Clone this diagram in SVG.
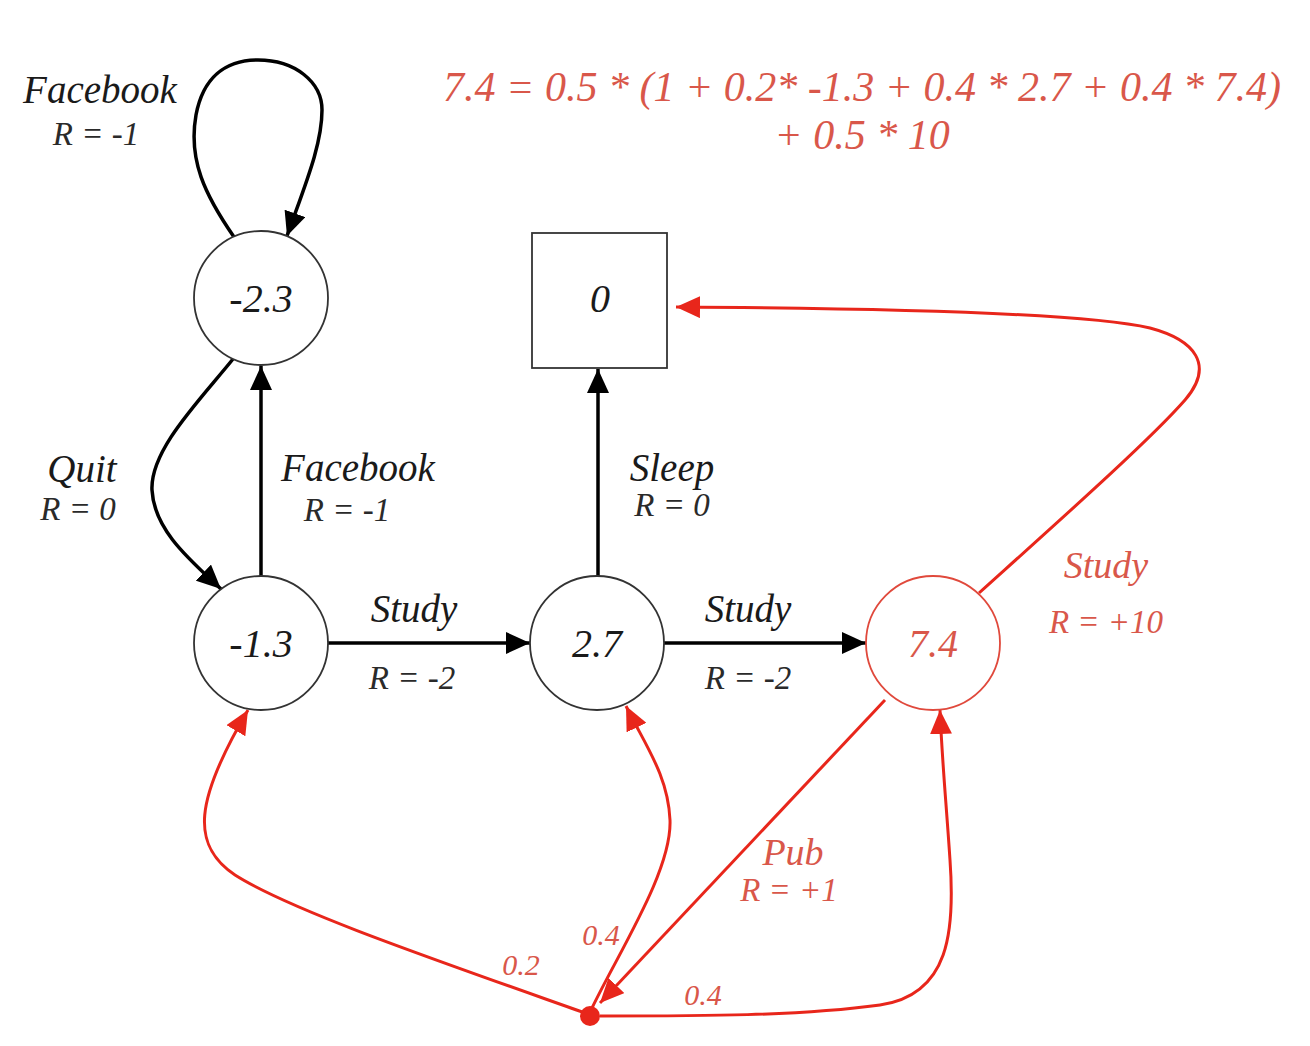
<svg xmlns="http://www.w3.org/2000/svg" width="1310" height="1046" viewBox="0 0 1310 1046">
<style>
text{font-family:"Liberation Serif","DejaVu Serif",serif;font-style:italic;text-anchor:middle}
.t{font-size:39px;fill:#1a1a1a}
.r{font-size:33px;fill:#2a2a2a}
.n{font-size:40px;fill:#1a1a1a}
.rt{fill:#d9574a}
.rs{font-size:30px}
.node{fill:#fff;stroke:#333;stroke-width:1.8}
.rnode{fill:#fff;stroke:#e0493c;stroke-width:1.8}
.e{fill:none;stroke:#000;stroke-width:3.5}
.re{fill:none;stroke:#e8261b;stroke-width:3}
</style>
<defs>
<marker id="ab" markerUnits="userSpaceOnUse" markerWidth="26" markerHeight="22" refX="24" refY="11" orient="auto"><path d="M0,0 L24,11 L0,22 Z" fill="#000"/></marker>
<marker id="ar" markerUnits="userSpaceOnUse" markerWidth="26" markerHeight="22" refX="24" refY="11" orient="auto"><path d="M0,0 L24,11 L0,22 Z" fill="#e8261b"/></marker>
</defs>
<rect width="1310" height="1046" fill="#fff"/>
<g id="formula">
<text class="rt" x="862" y="101" font-size="42">7.4 = 0.5 * (1 + 0.2* -1.3 + 0.4 * 2.7 + 0.4 * 7.4)</text>
<text class="rt" x="862" y="149" font-size="42">+ 0.5 * 10</text>
</g>
<g id="connectors">
<path class="e" d="M234,237 C205,195 188,160 196,115 C203,78 225,60 258,60 C295,60 322,82 322,110 C322,145 305,185 287,236" marker-end="url(#ab)"/>
<path class="e" d="M233,359 C200,400 150,450 152,490 C154,530 190,560 221,589" marker-end="url(#ab)"/>
<path class="e" d="M261,576 L261,366" marker-end="url(#ab)"/>
<path class="e" d="M598,576 L598,369" marker-end="url(#ab)"/>
<path class="e" d="M328,643 L530,643" marker-end="url(#ab)"/>
<path class="e" d="M664,643 L866,643" marker-end="url(#ab)"/>
<path class="re" d="M979,593 C1060,520 1150,440 1185,400 C1215,365 1195,340 1150,328 C1080,312 850,308 676,307" marker-end="url(#ar)"/>
<path class="re" d="M885,700 L600,1003" marker-end="url(#ar)"/>
<path class="re" d="M588,1014 C430,958 290,910 235,875 C190,845 195,800 248,710" marker-end="url(#ar)"/>
<path class="re" d="M592,1008 C620,950 672,870 670,820 C668,775 645,745 626,706" marker-end="url(#ar)"/>
<path class="re" d="M600,1016 C700,1016 800,1016 880,1005 C950,995 955,930 950,860 C946,800 942,760 940,710" marker-end="url(#ar)"/>
<circle cx="590" cy="1016" r="10" fill="#e8261b"/>
</g>
<g id="labels">
<text class="t" x="100" y="103">Facebook</text>
<text class="r" x="96" y="145">R = -1</text>
<text class="t" x="82" y="482">Quit</text>
<text class="r" x="78" y="520">R = 0</text>
<text class="t" x="358" y="481">Facebook</text>
<text class="r" x="347" y="521">R = -1</text>
<text class="t" x="414" y="622">Study</text>
<text class="r" x="412" y="689">R = -2</text>
<text class="t" x="672" y="481">Sleep</text>
<text class="r" x="672" y="516">R = 0</text>
<text class="t" x="748" y="622">Study</text>
<text class="r" x="748" y="689">R = -2</text>
<text class="rt" x="1106" y="578" font-size="38">Study</text>
<text class="rt" x="1106" y="633" font-size="33">R = +10</text>
<text class="rt" x="793" y="865" font-size="38">Pub</text>
<text class="rt" x="789" y="901" font-size="33">R = +1</text>
<text class="rt rs" x="601" y="945">0.4</text>
<text class="rt rs" x="521" y="975">0.2</text>
<text class="rt rs" x="703" y="1005">0.4</text>
</g>
<g id="n_m23"><circle class="node" cx="261" cy="298" r="67"/><text class="n" x="261" y="312">-2.3</text></g>
<g id="n_m13"><circle class="node" cx="261" cy="643" r="67"/><text class="n" x="261" y="657">-1.3</text></g>
<g id="n_27"><circle class="node" cx="597" cy="643" r="67"/><text class="n" x="597" y="657">2.7</text></g>
<g id="n_74"><circle class="rnode" cx="933" cy="643" r="67"/><text class="n rt" x="933" y="657">7.4</text></g>
<g id="n_0"><rect class="node" x="532" y="233" width="135" height="135"/><text class="n" x="600" y="312">0</text></g>
</svg>
